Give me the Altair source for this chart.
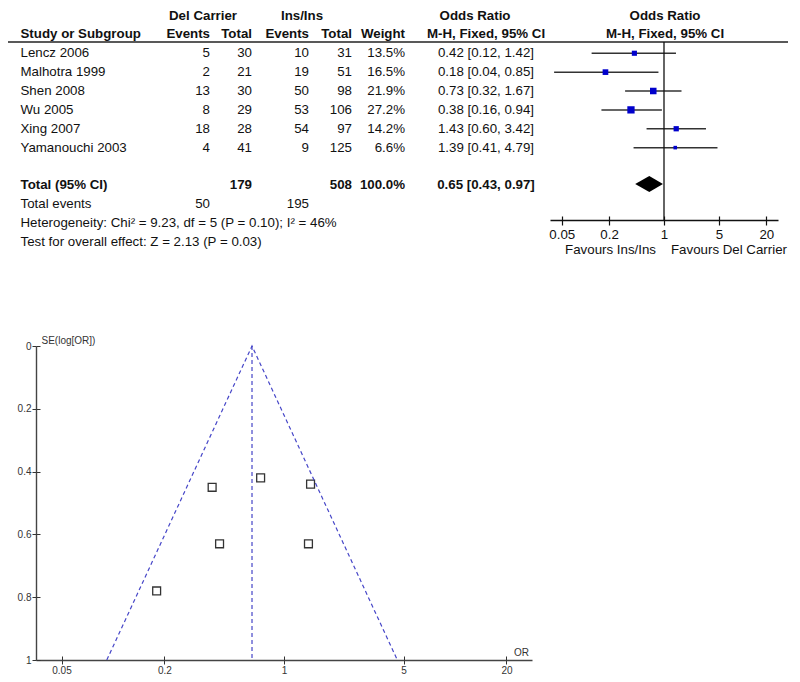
import altair as alt
import pandas as pd

# ---------------- data ----------------
studies = ["Lencz 2006", "Malhotra 1999", "Shen 2008", "Wu 2005", "Xing 2007", "Yamanouchi 2003"]
del_events = [5, 2, 13, 8, 18, 4]
del_total = [30, 21, 30, 29, 28, 41]
ins_events = [10, 19, 50, 53, 54, 9]
ins_total = [31, 51, 98, 106, 97, 125]
weights = [13.5, 16.5, 21.9, 27.2, 14.2, 6.6]
odds = [0.42, 0.18, 0.73, 0.38, 1.43, 1.39]
ci_low = [0.12, 0.04, 0.32, 0.16, 0.60, 0.41]
ci_high = [1.42, 0.85, 1.67, 0.94, 3.42, 4.79]
se_log_or = [0.63, 0.78, 0.42, 0.45, 0.44, 0.63]

total_label = "Total (95% CI)"
total_del, total_ins, total_weight = 179, 508, 100.0
pooled_or, pooled_low, pooled_high = 0.65, 0.43, 0.97
events_label = "Total events"
events_del, events_ins = 50, 195
heterogeneity = "Heterogeneity: Chi\u00b2 = 9.23, df = 5 (P = 0.10); I\u00b2 = 46%"
overall = "Test for overall effect: Z = 2.13 (P = 0.03)"
favours = ["Favours Ins/Ins", "Favours Del Carrier"]

or_ticks = [0.05, 0.2, 1, 5, 20]
se_ticks = [0, 0.2, 0.4, 0.6, 0.8, 1]
funnel_or = [0.092, 0.65, 4.6]
funnel_se = [1, 0, 1]

# ---------------- layout ----------------
FONT = "Liberation Sans"
FS = 13.3
PAD_TOP, PAD_BOTTOM = 6, 22
W, H = 784, 646
rows = ["h1", "h2"] + studies + ["gap", total_label, events_label, "het", "test"]
ROW_RANGE = [1.5, 228]
LOG_DOMAIN = [1 / 28.2, 28.2]
FOREST_RANGE = [542, 770]
FUNNEL_X_RANGE = [28, 524]
FUNNEL_Y_RANGE = [332, 646]
HEADER_Y = 28
FOREST_AXIS_Y = 206
TXT = "#111111"

col_layout = {
    "study": (12.5, "left"), "del": (195, "center"), "ev1": (202, "right"),
    "tot1": (244, "right"), "ins": (294, "center"), "ev2": (301, "right"),
    "tot2": (344, "right"), "wt": (397, "right"), "or1": (467, "center"),
    "orci": (478, "center"), "or2": (657, "center"),
}

cells = []


def add(row, col, text, bold=False):
    cells.append(dict(row=row, col=col, text=str(text), bold=bold))


add("h1", "del", "Del Carrier", True)
add("h1", "ins", "Ins/Ins", True)
add("h1", "or1", "Odds Ratio", True)
add("h1", "or2", "Odds Ratio", True)
for col, t in [("study", "Study or Subgroup"), ("ev1", "Events"), ("tot1", "Total"),
               ("ev2", "Events"), ("tot2", "Total"), ("wt", "Weight"),
               ("orci", "M-H, Fixed, 95% CI"), ("or2", "M-H, Fixed, 95% CI")]:
    add("h2", col, t, True)
for i, s in enumerate(studies):
    add(s, "study", s)
    add(s, "ev1", del_events[i])
    add(s, "tot1", del_total[i])
    add(s, "ev2", ins_events[i])
    add(s, "tot2", ins_total[i])
    add(s, "wt", f"{weights[i]:.1f}%")
    add(s, "orci", f"{odds[i]:.2f} [{ci_low[i]:.2f}, {ci_high[i]:.2f}]")
add(total_label, "study", total_label, True)
add(total_label, "tot1", total_del, True)
add(total_label, "tot2", total_ins, True)
add(total_label, "wt", f"{total_weight:.1f}%", True)
add(total_label, "orci", f"{pooled_or:.2f} [{pooled_low:.2f}, {pooled_high:.2f}]", True)
add(events_label, "study", events_label)
add(events_label, "ev1", events_del)
add(events_label, "ev2", events_ins)
add("het", "study", heterogeneity)
add("test", "study", overall)
cells_df = pd.DataFrame(cells)

row_scale = alt.Scale(type="point", domain=rows, range=ROW_RANGE, padding=0)
forest_scale = alt.Scale(type="log", domain=LOG_DOMAIN, range=FOREST_RANGE)
fx_scale = alt.Scale(type="log", domain=LOG_DOMAIN, range=FUNNEL_X_RANGE)
fy_scale = alt.Scale(domain=[0, 1], range=FUNNEL_Y_RANGE, zero=False, nice=False)

layers = []

# ---- table text ----
for (col, bold), sub in cells_df.groupby(["col", "bold"]):
    cx, al = col_layout[col]
    layers.append(
        alt.Chart(sub).mark_text(
            align=al, baseline="middle", font=FONT, fontSize=FS,
            fontWeight="bold" if bold else "normal", color=TXT
        ).encode(
            x=alt.value(cx),
            y=alt.Y("row:N", scale=row_scale, axis=None),
            text="text:N",
        )
    )

# header rule
layers.append(
    alt.Chart(pd.DataFrame({"k": [0]})).mark_rule(color="#222", strokeWidth=1.6).encode(
        x=alt.value(0), x2=alt.value(780), y=alt.value(HEADER_Y)
    )
)

# ---- forest plot ----
forest_df = pd.DataFrame({"row": studies, "or": odds, "lo": ci_low, "hi": ci_high, "w": weights})

layers.append(
    alt.Chart(forest_df).mark_rule(color="#333", strokeWidth=1.5).encode(
        x=alt.X("lo:Q", scale=forest_scale,
                axis=alt.Axis(orient="bottom", offset=FOREST_AXIS_Y - H, values=or_ticks,
                              format="~g", title="", grid=False, domainColor=TXT,
                              domainWidth=1.5, tickColor=TXT, tickWidth=1.2, tickSize=5,
                              labelFont=FONT, labelFontSize=FS, labelColor=TXT,
                              labelPadding=2, labelFlush=False, labelOverlap=False)),
        x2="hi:Q",
        y=alt.Y("row:N", scale=row_scale, axis=None),
    )
)

# line of no effect (carries the upper half of the ticks)
layers.append(
    alt.Chart(pd.DataFrame({"one": [1.0]})).mark_rule(color=TXT, strokeWidth=1.3).encode(
        x=alt.X("one:Q", scale=forest_scale,
                axis=alt.Axis(orient="top", offset=-FOREST_AXIS_Y, values=or_ticks,
                              labels=False, domain=False, tickSize=4, tickColor=TXT,
                              tickWidth=1.2, grid=False, title="")),
        y=alt.value(HEADER_Y), y2=alt.value(FOREST_AXIS_Y),
    )
)

layers.append(
    alt.Chart(forest_df).mark_square(color="#0000cc", opacity=1).encode(
        x=alt.X("or:Q", scale=forest_scale, axis=None),
        y=alt.Y("row:N", scale=row_scale, axis=None),
        size=alt.Size("w:Q", scale=alt.Scale(domain=[0, 27.2], range=[0, 53]), legend=None),
    )
)

# pooled diamond, centred on the total row
diamond_df = pd.DataFrame({"x": [pooled_low, pooled_or, pooled_high],
                           "top": [0, -1, 0], "bottom": [0, 1, 0]})
DIAMOND_Y = ROW_RANGE[0] + (ROW_RANGE[1] - ROW_RANGE[0]) * rows.index(total_label) / (len(rows) - 1) - 1.5
layers.append(
    alt.Chart(diamond_df).mark_area(color="black", orient="vertical", opacity=1).encode(
        x=alt.X("x:Q", scale=forest_scale, axis=None),
        y=alt.Y("top:Q", scale=alt.Scale(domain=[-1, 1], range=[DIAMOND_Y - 8, DIAMOND_Y + 8],
                                         zero=False, nice=False), axis=None),
        y2="bottom:Q",
    )
)

fav_df = pd.DataFrame({"one": [1.0, 1.0], "label": favours})
FAV_Y = FOREST_AXIS_Y + 30
layers.append(
    alt.Chart(fav_df.iloc[[0]]).mark_text(align="right", baseline="middle", font=FONT,
                                          fontSize=FS, color=TXT, dx=-8).encode(
        x=alt.X("one:Q", scale=forest_scale, axis=None), y=alt.value(FAV_Y), text="label:N")
)
layers.append(
    alt.Chart(fav_df.iloc[[1]]).mark_text(align="left", baseline="middle", font=FONT,
                                          fontSize=FS, color=TXT, dx=7).encode(
        x=alt.X("one:Q", scale=forest_scale, axis=None), y=alt.value(FAV_Y), text="label:N")
)

# ---- funnel plot ----
funnel_pts = pd.DataFrame({"study": studies, "or": odds, "se": se_log_or})
funnel_lines = pd.DataFrame({"or": funnel_or, "se": funnel_se})
pooled_df = pd.DataFrame({"or": [pooled_or], "se0": [min(funnel_se)], "se1": [max(funnel_se)]})

GR = "#333333"
layers.append(
    alt.Chart(funnel_pts).mark_square(filled=False, size=62, color=GR, strokeWidth=1.3, opacity=1).encode(
        x=alt.X("or:Q", scale=fx_scale,
                axis=alt.Axis(orient="bottom", values=or_ticks, format="~g", grid=False,
                              domainColor="#444", domainWidth=1.6, tickColor=GR, tickSize=4,
                              tickWidth=1, labelFont=FONT, labelFontSize=10, labelColor=GR,
                              labelPadding=1, labelFlush=False, labelOverlap=False,
                              title="OR", titleX=513, titleY=-8, titleFont=FONT,
                              titleFontSize=10, titleFontWeight="normal", titleColor=GR,
                              titleAlign="center", titleBaseline="middle")),
        y=alt.Y("se:Q", scale=fy_scale,
                axis=alt.Axis(orient="left", offset=-FUNNEL_X_RANGE[0], values=se_ticks,
                              format="~g", grid=False, domainColor="#444", domainWidth=1.4,
                              tickColor=GR, tickSize=4, tickWidth=1, labelFont=FONT,
                              labelFontSize=10, labelColor=GR, labelPadding=1,
                              labelFlush=False, title="SE(log[OR])", titleAngle=0,
                              titleX=5, titleY=FUNNEL_Y_RANGE[0] - 6, titleAlign="left",
                              titleBaseline="middle", titleFont=FONT, titleFontSize=10,
                              titleFontWeight="normal", titleColor=GR)),
    )
)

BLUE = "#4646c8"
layers.append(
    alt.Chart(funnel_lines).mark_line(color=BLUE, strokeDash=[4, 3], strokeWidth=1.2).encode(
        x=alt.X("or:Q", scale=fx_scale,
                axis=alt.Axis(orient="top", offset=-H, values=or_ticks, labels=False,
                              domain=False, tickSize=4, tickColor=GR, tickWidth=1,
                              grid=False, title="")),
        y=alt.Y("se:Q", scale=fy_scale,
                axis=alt.Axis(orient="right", offset=FUNNEL_X_RANGE[0] - W, values=se_ticks,
                              labels=False, domain=False, tickSize=4, tickColor=GR,
                              tickWidth=1, grid=False, title="")),
    )
)
layers.append(
    alt.Chart(pooled_df).mark_rule(color=BLUE, strokeDash=[4, 3], strokeWidth=1.2).encode(
        x=alt.X("or:Q", scale=fx_scale, axis=None),
        y=alt.Y("se0:Q", scale=fy_scale, axis=None),
        y2="se1:Q",
    )
)

chart = (
    alt.layer(*layers)
    .resolve_scale(x="independent", y="independent")
    .properties(width=W, height=H, autosize=alt.AutoSizeParams(type="none"),
                padding={"left": 0, "top": PAD_TOP, "right": 0, "bottom": PAD_BOTTOM},
                background="white")
    .configure_view(strokeWidth=0)
)

chart.save("out.html", embed_options={"renderer": "svg", "actions": False})
